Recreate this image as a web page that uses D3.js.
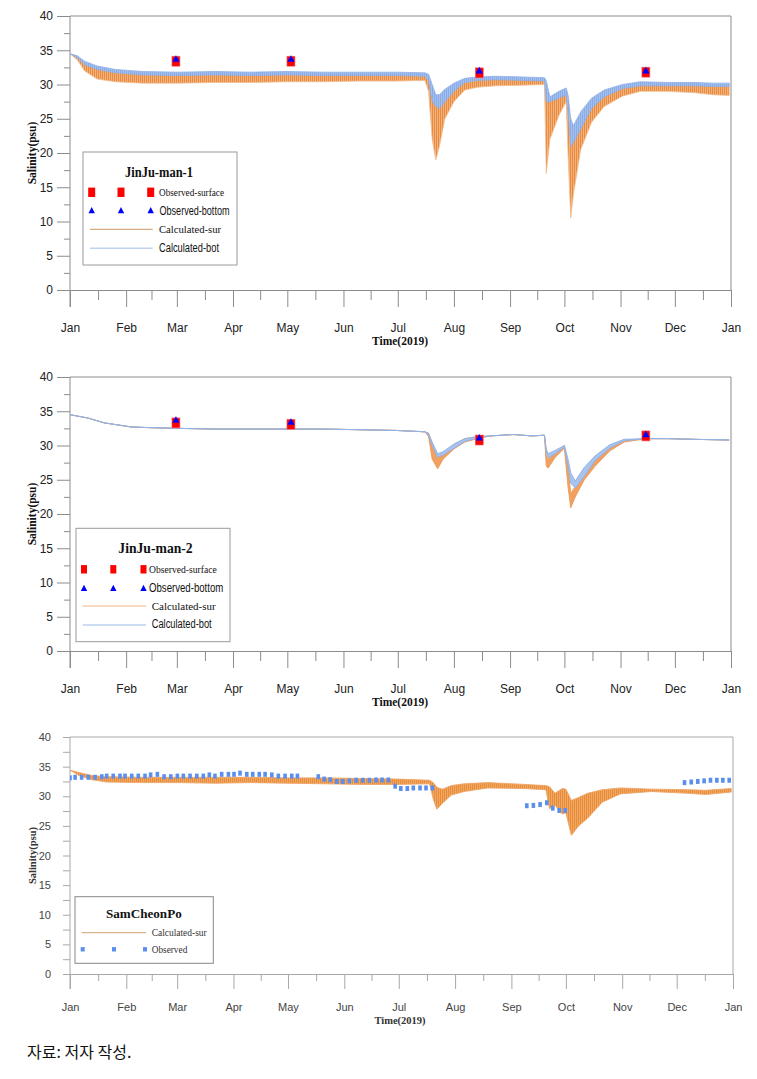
<!DOCTYPE html>
<html><head><meta charset="utf-8">
<script src="https://cdn.jsdelivr.net/npm/d3@7"></script>
<style>body{margin:0;background:#fff}</style>
</head><body>
<svg id="c" width="757" height="1079"></svg>
<script>
// ---------- data ----------
const monthLabels = ["Jan","Feb","Mar","Apr","May","Jun","Jul","Aug","Sep","Oct","Nov","Dec","Jan"];
const yTicks = [0,5,10,15,20,25,30,35,40];
const yMinor = [2.5,7.5,12.5,17.5,22.5,27.5,32.5,37.5];

// Panel 1: JinJu-man-1 (day of 2019, calculated envelopes)
const p1Day   = [0,4,8,15,25,40,60,80,100,120,140,160,180,196,198,200,202,204,207,212,218,225,235,250,262,263,265,270,274,275,276.5,278,282,288,295,305,315,330,345,355,364];
const p1SurLo = [34.5,33.6,32.0,30.8,30.4,30.2,30.2,30.3,30.3,30.4,30.4,30.5,30.5,30.6,29.0,22.0,19.0,21.0,25.0,27.5,29.2,29.6,29.8,29.9,30.0,17.0,22.0,25.5,27.5,20.0,10.5,14.0,20.5,24.5,26.8,28.3,29.0,29.0,28.8,28.5,28.4];
const p1SurHi = [34.5,34.1,33.2,32.3,31.8,31.5,31.5,31.6,31.5,31.6,31.6,31.6,31.5,31.5,31.0,29.0,27.0,27.5,28.5,29.5,30.3,30.7,30.8,30.8,30.9,29.5,27.5,28.5,29.0,28.0,24.0,23.0,25.0,27.0,28.3,29.5,30.0,30.0,30.0,29.8,29.8];
const p1BotLo = [34.5,33.9,32.9,32.2,31.7,31.4,31.3,31.4,31.3,31.4,31.3,31.3,31.3,31.2,30.5,27.5,26.8,26.5,27.5,29.0,30.3,30.6,30.7,30.6,30.5,27.5,27.5,28.0,28.5,26.0,21.0,21.5,23.5,26.5,28.2,29.4,29.8,29.8,29.8,29.7,29.7];
const p1BotHi = [34.5,34.2,33.4,32.7,32.2,31.9,31.8,31.9,31.8,31.9,31.8,31.8,31.8,31.7,31.5,30.0,28.5,28.5,29.3,30.2,30.9,31.1,31.2,31.1,31.0,30.5,28.2,29.0,29.5,28.5,25.0,24.0,26.0,28.0,29.2,30.0,30.4,30.3,30.3,30.2,30.2];
const p1ObsDay = [58.5,122,226,318];
const p1ObsSur = [33.4,33.4,31.7,31.8];
const p1ObsBot = [33.7,33.7,32.0,32.0];

// Panel 2: JinJu-man-2
const p2Day   = [0,10,19,34,45,60,80,100,120,140,160,180,196,198,200,203,206,212,218,225,232,245,255,262,263,264,268,273,275,276.5,279,284,290,298,306,318,330,345,364];
const p2SurLo = [34.5,34.0,33.3,32.7,32.6,32.5,32.4,32.4,32.4,32.4,32.3,32.2,32.0,31.3,28.0,26.6,28.0,29.5,30.5,31.0,31.4,31.6,31.4,31.5,27.0,26.7,28.3,29.6,24.0,20.9,22.5,25.0,27.0,29.2,30.5,31.0,31.0,30.9,30.8];
const p2SurHi = [34.5,34.0,33.3,32.7,32.6,32.5,32.4,32.4,32.4,32.4,32.3,32.2,32.0,31.8,30.0,28.2,28.8,30.2,31.0,31.3,31.4,31.6,31.4,31.5,28.5,28.0,29.0,30.0,27.0,23.0,24.0,26.0,28.0,29.6,30.7,31.0,31.0,30.9,30.8];
const p2BotLo = [34.5,34.0,33.3,32.7,32.6,32.5,32.4,32.4,32.4,32.4,32.3,32.2,32.0,31.6,30.0,28.3,28.6,29.6,30.6,31.1,31.4,31.6,31.4,31.5,29.0,28.2,28.8,29.8,27.0,24.5,23.8,25.5,27.8,29.6,30.7,31.0,31.0,30.9,30.8];
const p2BotHi = [34.5,34.0,33.3,32.7,32.6,32.5,32.4,32.4,32.4,32.4,32.3,32.2,32.0,31.8,30.5,28.8,29.1,30.2,31.0,31.3,31.4,31.6,31.4,31.5,29.5,28.8,29.3,30.0,28.0,26.0,24.8,26.8,28.5,30.1,30.9,31.0,31.0,30.9,30.8];
const p2ObsDay = [58.5,122,226,318];
const p2ObsSur = [33.3,33.1,30.8,31.4];
const p2ObsBot = [33.7,33.4,31.1,31.6];

// Panel 3: SamCheonPo
const p3Day = [0,5,12,20,40,60,80,100,120,140,160,180,198,200,202,205,210,217,230,250,262,264,267,271,273,276,280,285,293,303,320,340,350,364];
const p3Lo  = [34.4,33.5,32.8,32.4,32.3,32.3,32.2,32.3,32.2,32.1,32.0,32.0,32.1,29.5,27.8,28.8,30.2,30.8,31.4,31.3,31.1,27.9,28.5,27.0,27.2,23.4,25.0,26.3,29.0,30.4,30.8,30.5,30.3,30.7];
const p3Hi  = [34.4,34.0,33.5,33.3,33.2,33.2,33.2,33.2,33.1,33.1,33.0,32.9,32.7,32.3,31.5,31.2,31.8,32.1,32.3,32.0,31.8,31.6,30.5,31.3,31.2,29.3,29.8,30.5,31.1,31.4,31.2,31.1,31.0,31.3];
const p3ObsDay = [0,2.8,6.4,10.1,13.8,17.5,20.2,23.8,27.5,30.3,34,37.6,41.3,44.4,48.1,51.8,55.5,59.1,62.4,66.1,69.8,73.4,76.7,79.8,83.5,87.2,90.3,93.6,97.3,100.6,104.2,107.4,111.1,114.7,118.4,122.1,125.2,
  136.7,139.9,143.2,146.9,150.2,153.8,157.5,161.2,164.8,168.5,171.8,175.3,179,182.1,185.7,189,192.7,196,199.5,
  251.5,255.1,258.8,262.5,265.8,269.3,272.6,
  338.3,342,345.6,349.1,352.6,356.1,359.4,362.9];
const p3ObsVal = [33.1,33.2,33.2,33.2,33.2,33.3,33.4,33.4,33.4,33.4,33.4,33.4,33.4,33.6,33.7,33.3,33.3,33.4,33.4,33.4,33.4,33.4,33.6,33.4,33.7,33.7,33.7,33.9,33.7,33.7,33.7,33.7,33.6,33.4,33.4,33.4,33.4,
  33.3,32.9,32.8,32.5,32.5,32.6,32.7,32.7,32.7,32.75,32.75,32.75,31.7,31.3,31.3,31.4,31.4,31.4,31.4,
  28.4,28.45,28.6,28.9,28.0,27.6,27.6,
  32.3,32.4,32.5,32.6,32.7,32.7,32.7,32.7];

// ---------- drawing ----------
const svg = d3.select("#c");
const DAY = 86400000;
const t0 = Date.UTC(2019,0,1), t1 = Date.UTC(2020,0,1);
const toDate = d => new Date(t0 + d*DAY);
const monthStarts = d3.utcMonth.range(new Date(t0), new Date(t1 + 1));
const midMonths = monthStarts.slice(0,-1).map((m,i)=> new Date((+m + +monthStarts[i+1])/2));

const SANS = "'Liberation Sans Narrow','Liberation Sans',Arial,sans-serif";
const SERIF = "'Liberation Serif','Times New Roman',serif";

const defs = svg.append("defs");
function stripes(id, base, line, w){
  const p = defs.append("pattern").attr("id",id).attr("patternUnits","userSpaceOnUse")
    .attr("width",w).attr("height",6);
  p.append("rect").attr("width",w).attr("height",6).attr("fill",base);
  p.append("rect").attr("width",1).attr("height",6).attr("fill",line);
}
stripes("orgP","#F2B27E","#EA8A3C",2);
stripes("bluP","#A4C0EE","#8AACE6",2);
stripes("org3","#F0A862","#E98C3A",2);

function panel(o){
  const g = svg.append("g");
  const x = d3.scaleUtc().domain([new Date(t0), new Date(t1)]).range([70, o.right]);
  const y = d3.scaleLinear().domain([0,40]).range([o.bottom, o.top]);
  const ac = o.axisColor, lc = o.labelColor;

  g.append("line").attr("x1",70).attr("x2",o.right).attr("y1",o.top).attr("y2",o.top).attr("stroke",ac);
  g.append("line").attr("x1",o.right).attr("x2",o.right).attr("y1",o.top).attr("y2",o.bottom).attr("stroke",ac);

  const ya = g.append("g").attr("transform","translate(70,0)")
    .call(d3.axisLeft(y).tickValues(yTicks).tickSize(o.yMajor).tickSizeOuter(0).tickPadding(o.yPad));
  const ym = g.append("g").attr("transform","translate(70,0)")
    .call(d3.axisLeft(y).tickValues(yMinor).tickSize(o.yMinorLen).tickFormat(""));
  ym.select(".domain").remove();
  const xa = g.append("g").attr("transform",`translate(0,${o.bottom})`)
    .call(d3.axisBottom(x).tickValues(monthStarts).tickSize(o.xMajor).tickSizeOuter(0)
      .tickPadding(o.xPad).tickFormat((d,i)=>monthLabels[i]));
  const xm = g.append("g").attr("transform",`translate(0,${o.bottom})`)
    .call(d3.axisBottom(x).tickValues(midMonths).tickSize(o.xMinor).tickFormat(""));
  xm.select(".domain").remove();
  [ya,ym,xa,xm].forEach(a=>{
    a.selectAll("path,line").attr("stroke",ac);
    a.selectAll("text").attr("fill",lc).style("font-family",SANS).style("font-size",o.tickFont+"px");
  });
  ya.select(".domain").attr("d",`M0,${o.top}V${o.bottom + o.xMajor}`);

  g.append("text").attr("transform",`translate(${o.yLabX},${(o.top+o.bottom)/2}) rotate(-90)`)
    .attr("text-anchor","middle").attr("dy","0.35em")
    .style("font-family",SERIF).style("font-weight","bold").style("font-size",o.labFont+"px")
    .attr("fill",o.labColor).text("Salinity(psu)");
  g.append("text").attr("x",400).attr("y",o.timeY).attr("text-anchor","middle")
    .style("font-family",SERIF).style("font-weight","bold").style("font-size",o.labFont+"px")
    .attr("fill",o.labColor).text("Time(2019)");

  const clip = "clip"+o.id;
  defs.append("clipPath").attr("id",clip).append("rect")
    .attr("x",70).attr("y",o.top).attr("width",o.right-70).attr("height",o.bottom-o.top);
  const plot = g.append("g").attr("clip-path",`url(#${clip})`);
  return {g, x, y, plot};
}

function band(plot, x, y, days, lo, hi, fill, stroke, sw){
  const data = days.map((d,i)=>({d, lo:lo[i], hi:hi[i]}));
  const area = d3.area().x(p=>x(toDate(p.d))).y0(p=>y(p.lo)).y1(p=>y(p.hi));
  plot.append("path").datum(data).attr("d",area).attr("fill",fill)
    .attr("stroke",stroke).attr("stroke-width",sw).attr("stroke-linejoin","round");
}

function obsMarkers(plot, x, y, days, sur, bot){
  days.forEach((d,i)=>{
    const cx = x(toDate(d));
    plot.append("rect").attr("x",cx-4).attr("y",y(sur[i])-5).attr("width",8).attr("height",10)
      .attr("fill","#FF0000").attr("stroke","#F07070").attr("stroke-width",0.6);
    const ty = y(bot[i]);
    plot.append("path").attr("d",`M${cx},${ty-4}L${cx+3.6},${ty+2.6}L${cx-3.6},${ty+2.6}Z`).attr("fill","#0000FF");
  });
}

function legendBox(o){
  svg.append("rect").attr("x",o.x).attr("y",o.y).attr("width",o.w).attr("height",o.h)
    .attr("fill","#fff").attr("stroke",o.stroke||"#9a9a9a").attr("stroke-width",1);
}
function ltext(x, yb, txt, fam, size, len, bold, color){
  const t = svg.append("text").attr("x",x).attr("y",yb).style("font-family",fam)
    .style("font-size",size+"px").attr("fill",color||"#111").text(txt);
  if (bold) t.style("font-weight","bold");
  if (len) t.attr("textLength",len).attr("lengthAdjust","spacingAndGlyphs");
}
function legSquares(xs, cy, w, h){
  xs.forEach(cx=>svg.append("rect").attr("x",cx-w/2).attr("y",cy-h/2).attr("width",w).attr("height",h).attr("fill","#FF0000"));
}
function legTris(xs, cy){
  xs.forEach(cx=>svg.append("path").attr("d",`M${cx},${cy-3.6}L${cx+3.2},${cy+2.6}L${cx-3.2},${cy+2.6}Z`).attr("fill","#0000FF"));
}

// ----- Panel 1 -----
{
  const P = panel({id:1, top:16, bottom:290, right:731, axisColor:"#8c8c8c", labelColor:"#222",
    yMajor:13, yMinorLen:6, xMajor:17, xMinor:10, yPad:4, xPad:16, tickFont:12,
    yLabX:32, timeY:345, labFont:11.5, labColor:"#111"});
  band(P.plot,P.x,P.y,p1Day,p1SurLo,p1SurHi,"url(#orgP)","#EFBE92",0.8);
  band(P.plot,P.x,P.y,p1Day,p1BotLo,p1BotHi,"url(#bluP)","#8FB0E8",0.8);
  obsMarkers(P.plot,P.x,P.y,p1ObsDay,p1ObsSur,p1ObsBot);

  legendBox({x:83,y:152,w:154,h:113});
  ltext(125,176.5,"JinJu-man-1",SERIF,15,68,true);
  legSquares([91.7,121,150.7],192.3,7,9.4);
  legTris([91.7,121,150.7],210.7);
  ltext(159,196,"Observed-surface",SERIF,11,65);
  ltext(159.5,214.7,"Observed-bottom",SANS,12.5,70);
  svg.append("line").attr("x1",90).attr("x2",152.7).attr("y1",229.3).attr("y2",229.3).attr("stroke","#D6AD84").attr("stroke-width",1.2);
  ltext(159,233,"Calculated-sur",SERIF,11,62);
  svg.append("line").attr("x1",90).attr("x2",152.7).attr("y1",248.3).attr("y2",248.3).attr("stroke","#BFD3EF").attr("stroke-width",1.4);
  ltext(159,251.7,"Calculated-bot",SANS,12.5,60);
}

// ----- Panel 2 -----
{
  const P = panel({id:2, top:377, bottom:651, right:731, axisColor:"#8c8c8c", labelColor:"#222",
    yMajor:13, yMinorLen:6, xMajor:17, xMinor:10, yPad:4, xPad:16, tickFont:12,
    yLabX:32, timeY:706, labFont:11.5, labColor:"#111"});
  band(P.plot,P.x,P.y,p2Day,p2SurLo,p2SurHi,"#F0A060","#EE9A55",0.9);
  band(P.plot,P.x,P.y,p2Day,p2BotLo,p2BotHi,"#A9C3EE","#93B3E8",1.0);
  obsMarkers(P.plot,P.x,P.y,p2ObsDay,p2ObsSur,p2ObsBot);

  legendBox({x:76,y:528.3,w:154,h:113.4});
  ltext(118.3,553.3,"JinJu-man-2",SERIF,15,74.4,true);
  legSquares([84,113.3,143.5],569.3,6,8.4);
  legTris([84,113.3,143.5],588.3);
  ltext(149,573.3,"Observed-surface",SERIF,11,67.7);
  ltext(149,591.7,"Observed-bottom",SANS,12.5,74.3);
  svg.append("line").attr("x1",82.7).attr("x2",146).attr("y1",606).attr("y2",606).attr("stroke","#F2B486").attr("stroke-width",1.2);
  ltext(151.7,610,"Calculated-sur",SERIF,11,64);
  svg.append("line").attr("x1",82.7).attr("x2",146).attr("y1",625).attr("y2",625).attr("stroke","#CCDCF3").attr("stroke-width",2);
  ltext(151.7,628.3,"Calculated-bot",SANS,12.5,60);
}

// ----- Panel 3 -----
{
  const P = panel({id:3, top:737, bottom:974, right:733, axisColor:"#a8a8a8", labelColor:"#444",
    yMajor:7, yMinorLen:7, xMajor:15, xMinor:7, yPad:12, xPad:14, tickFont:11,
    yLabX:32, timeY:1024, labFont:10.5, labColor:"#333"});
  band(P.plot,P.x,P.y,p3Day,p3Lo,p3Hi,"url(#org3)","#EDA566",0.9);
  P.plot.selectAll("rect.obs").data(p3ObsDay).join("rect").attr("class","obs")
    .attr("x",(d)=>P.x(toDate(d))-1.8).attr("y",(d,i)=>P.y(p3ObsVal[i])-2.5)
    .attr("width",3.6).attr("height",5).attr("fill","#5A8FEE");

  legendBox({x:75,y:896.7,w:138.3,h:66.6, stroke:"#888"});
  ltext(106,918.3,"SamCheonPo",SERIF,13,75.7,true);
  svg.append("line").attr("x1",81.7).attr("x2",146).attr("y1",932.7).attr("y2",932.7).attr("stroke","#D9B38C").attr("stroke-width",1.2);
  ltext(151.7,936,"Calculated-sur",SERIF,10.5,55,false,"#333");
  [82.7,114,145].forEach(cx=>svg.append("rect").attr("x",cx-2).attr("y",949.3-2.2).attr("width",4).attr("height",4.4).attr("fill","#5A8FEE"));
  ltext(151.7,952.7,"Observed",SERIF,10.5,35.6,false,"#333");
}

// caption
svg.append("text").attr("x",27).attr("y",1058).style("font-family","'Noto Sans CJK KR',sans-serif")
  .style("font-size","16px").attr("fill","#111").text("자료: 저자 작성.");
</script>
</body></html>
